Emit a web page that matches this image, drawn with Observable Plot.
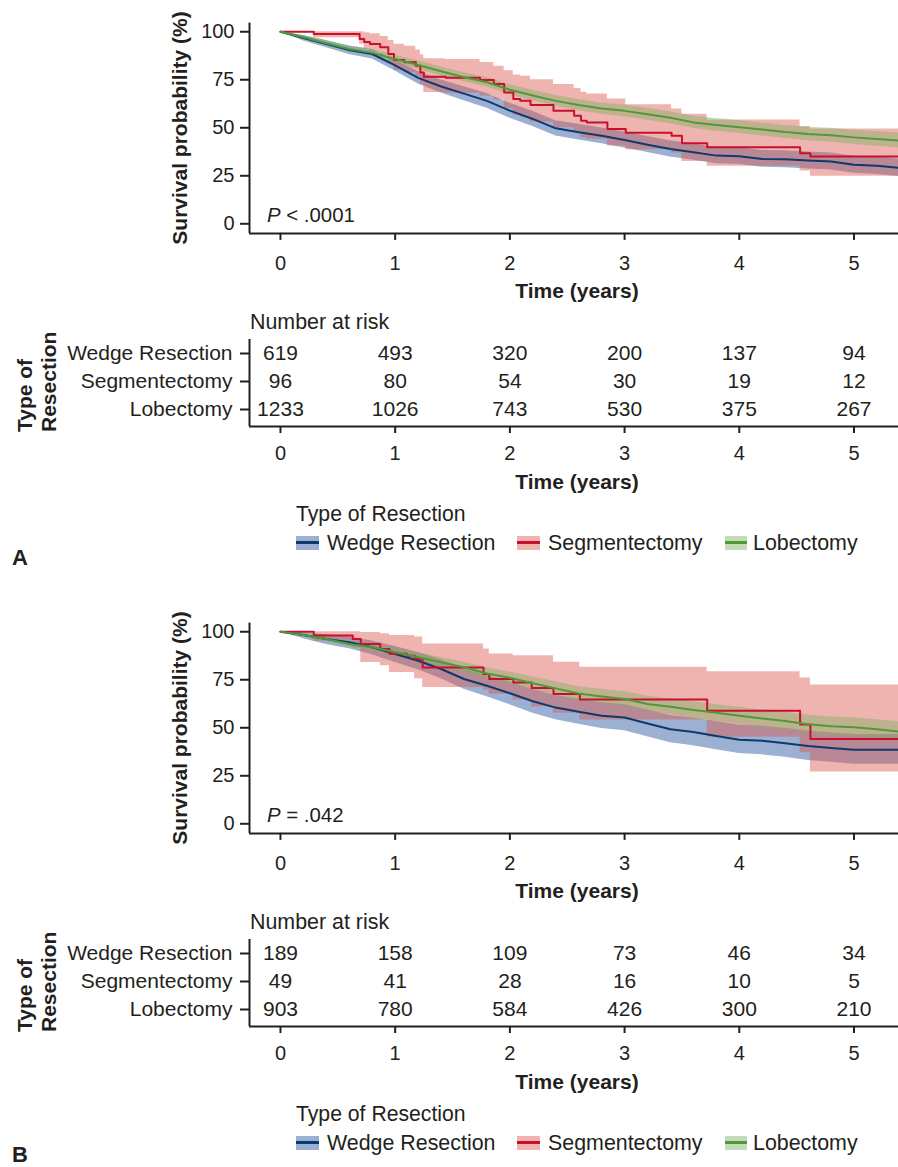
<!DOCTYPE html>
<html><head><meta charset="utf-8">
<script src="https://cdn.jsdelivr.net/npm/d3@7"></script>
<script src="https://cdn.jsdelivr.net/npm/@observablehq/plot@0.6"></script>
<style>
body{margin:0;background:#fff;}
#fig{position:relative;width:898px;height:1167px;font-family:"Liberation Sans",Arial,Helvetica,sans-serif;color:#231f20;overflow:hidden;}
.abs{position:absolute;white-space:nowrap;font-size:21px;line-height:20px;}
.b{font-weight:bold;}
</style></head><body><div id="fig"></div>
<script>
// ---------------- DATA ----------------
const groups = ["Wedge Resection", "Segmentectomy", "Lobectomy"];
const lineColors = ["#0b3a6b", "#c8102e", "#4e9a3a"];
const bandColors = ["#214f9b", "#de584f", "#80af66"];
const swatchColors = ["#9bb0d2", "#f0b4b0", "#c6dbba"];
const survTicks = [0, 25, 50, 75, 100];
const timeTicks = [0, 1, 2, 3, 4, 5];
const pLabels = ["< .0001", "= .042"];
const panelLetters = ["A", "B"];

const timeGrid = [0,0.2,0.4,0.6,0.8,1.0,1.2,1.4,1.6,1.8,2.0,2.2,2.4,2.6,2.8,3.0,3.2,3.4,3.6,3.8,4.0,4.2,4.4,4.6,4.8,5.0,5.2,5.4];

// Panel A
const wedgeA_surv  = [100,96.7,93.6,90.5,88.4,82.5,76.0,71.5,67.8,64.0,58.9,54.6,49.7,47.7,45.8,43.6,41.2,39.0,37.3,35.5,35.2,33.8,33.6,32.9,32.4,30.7,30.2,29.1];
const wedgeA_lower = [100,95.2,91.7,88.2,85.8,79.6,72.8,68.1,64.1,60.1,54.9,50.6,45.7,43.6,41.7,39.5,37.1,34.8,33.1,31.3,30.9,29.5,29.2,28.5,28.0,26.3,25.7,24.6];
const wedgeA_upper = [100,98.0,95.4,92.6,90.8,85.3,79.3,74.9,71.4,67.8,62.8,58.6,53.7,51.8,49.9,47.8,45.4,43.3,41.6,39.8,39.6,38.2,38.0,37.4,36.9,35.2,34.8,33.7];
const lobeA_surv  = [100,97.1,94.0,91.0,89.0,85.8,82.7,79.4,76.3,73.7,69.8,66.8,64.0,61.8,60.0,58.8,57.0,55.2,52.8,51.5,50.3,49.1,47.8,46.8,46.1,45.0,44.2,43.3];
const lobeA_lower = [100,96.2,92.7,89.4,87.2,83.8,80.5,77.1,73.9,71.2,67.2,64.1,61.2,58.9,57.1,55.8,53.9,52.1,49.6,48.2,47.0,45.7,44.4,43.3,42.5,41.3,40.4,39.4];
const lobeA_upper = [100,98.0,95.3,92.6,90.8,87.8,84.9,81.7,78.7,76.2,72.4,69.5,66.8,64.7,62.9,61.8,60.1,58.3,56.0,54.8,53.6,52.5,51.2,50.3,49.7,48.7,48.0,47.2];
const segA_time  = [0,0.29,0.69,0.73,0.78,0.87,0.94,0.99,1.08,1.18,1.22,1.25,1.44,1.74,1.86,1.95,2.03,2.09,2.18,2.38,2.56,2.62,2.67,2.85,3.01,3.41,3.50,3.72,4.53,4.62,5.4];
const segA_surv  = [100,98.8,96.2,94.6,93.6,91.9,88.4,85.3,84.1,82.3,78.8,76.6,76.0,74.9,72.8,68.4,65.0,64.1,61.9,58.9,56.3,53.7,52.8,49.4,47.4,45.9,41.9,39.9,36.7,35.0,35.0];
const segA_upper = [100,100,100,99.5,99,97.5,95.5,93.5,92.5,90.5,88,86,85.5,84,82,79.7,77.5,76.8,75,72.5,70.5,68.5,67.6,65,62,59.8,57,54,50.6,49.4,49.4];
const segA_lower = [100,96.9,93.5,91,89.5,87.5,83.5,80,78.5,76.5,72.5,68.4,68,66.5,64.5,60,56.5,55.5,53,50,47.5,44.8,44,40.5,38.5,36.8,32.5,30,27.5,24.8,24.8];

// Panel B
const wedgeB_surv  = [100,98.3,96.2,94.5,91.9,88.4,84.9,80.6,75.4,71.9,68.0,63.8,60.5,58.3,56.3,55.3,52.2,49.2,47.8,45.7,43.8,43.2,42.0,40.5,39.5,38.5,38.5,38.5];
const wedgeB_lower = [100,96.4,93.4,91.1,88.0,84.0,80.2,75.5,70.0,66.2,62.0,57.6,54.2,51.8,49.6,48.4,45.3,42.2,40.7,38.6,36.6,35.9,34.7,33.0,32.0,31.0,31.0,31.0];
const wedgeB_upper = [100,99.5,98.4,97.2,95.2,92.3,89.2,85.4,80.6,77.4,73.8,69.9,66.8,64.8,63.0,62.1,59.3,56.4,55.1,53.2,51.4,50.8,49.7,48.3,47.4,46.5,46.5,46.5];
const lobeB_surv  = [100,98.3,96.2,93.6,91.9,89.3,86.7,84.1,81.5,78.3,76.0,73.2,70.5,67.8,66.3,65.0,62.4,61.0,59.3,57.8,56.3,54.8,53.5,51.8,50.8,50.3,49.2,48.0];
const lobeB_lower = [100,97.3,94.9,92.0,90.0,87.1,84.3,81.5,78.7,75.3,72.8,69.8,66.9,64.0,62.4,61.0,58.3,56.8,55.0,53.4,51.8,50.2,48.8,47.0,45.9,45.3,44.1,42.8];
const lobeB_upper = [100,99.1,97.4,95.1,93.7,91.4,89.1,86.6,84.3,81.2,79.1,76.5,73.9,71.4,70.1,68.9,66.4,65.1,63.5,62.1,60.7,59.3,58.1,56.5,55.6,55.2,54.2,53.1];
const segB_time  = [0,0.29,0.63,0.70,0.87,0.95,1.10,1.17,1.24,1.77,1.82,2.03,2.19,2.38,2.61,3.72,4.53,4.62,5.4];
const segB_surv  = [100,98.0,96.2,93.6,91.0,88.6,87.5,85.8,81.4,78.0,75.4,73.6,70.7,67.6,64.7,58.9,51.7,44.2,44.2];
const segB_upper = [100,100,100,99.6,98.9,98.0,98.0,97.2,93.6,91.0,88.4,87.5,87.5,84.1,81.5,79.2,75.9,72.3,72.3];
const segB_lower = [100,95,91.5,84.0,82.3,78.8,78.8,75.5,71.0,69.5,67.5,64.5,61,57.5,54,45,37,27,27];

// Number at risk
const riskTimes = [0, 1, 2, 3, 4, 5];
const riskA_wedge = [619, 493, 320, 200, 137, 94];
const riskA_seg   = [96, 80, 54, 30, 19, 12];
const riskA_lobe  = [1233, 1026, 743, 530, 375, 267];
const riskB_wedge = [189, 158, 109, 73, 46, 34];
const riskB_seg   = [49, 41, 28, 16, 10, 5];
const riskB_lobe  = [903, 780, 584, 426, 300, 210];

// ---------------- BUILD ----------------
const INK = "#231f20";
const FONT = '"Liberation Sans", Arial, Helvetica, sans-serif';
const X0 = -0.27, X1 = 5.388;
const fig = document.getElementById("fig");
const fmt = d => String(d);

function rows(time, s, lo, hi) { return time.map((t, i) => ({t, s: s[i], lo: lo[i], hi: hi[i]})); }

const panels = [
  { curves: [rows(timeGrid, wedgeA_surv, wedgeA_lower, wedgeA_upper), rows(segA_time, segA_surv, segA_lower, segA_upper), rows(timeGrid, lobeA_surv, lobeA_lower, lobeA_upper)],
    risk: [riskA_wedge, riskA_seg, riskA_lobe] },
  { curves: [rows(timeGrid, wedgeB_surv, wedgeB_lower, wedgeB_upper), rows(segB_time, segB_surv, segB_lower, segB_upper), rows(timeGrid, lobeB_surv, lobeB_lower, lobeB_upper)],
    risk: [riskB_wedge, riskB_seg, riskB_lobe] }
];
const curveTypes = ["linear", "step-after", "linear"];

function place(el, left, top) { el.style.position = "absolute"; el.style.left = left + "px"; el.style.top = top + "px"; fig.appendChild(el); return el; }
function label(html, left, capTop, cls, extra) {
  const d = document.createElement("div");
  d.className = "abs " + (cls || "");
  d.innerHTML = html;
  if (extra) Object.assign(d.style, extra);
  place(d, left, capTop - 2.3);
  return d;
}

const style = {fontFamily: FONT, fontSize: "20px", color: INK, background: "none", overflow: "visible"};

panels.forEach((P, pi) => {
  const off = pi * 600;

  // Survival curves
  const marks = [];
  P.curves.forEach((c, g) => marks.push(Plot.areaY(c, {x: "t", y1: "lo", y2: "hi", fill: bandColors[g], fillOpacity: 0.45, curve: curveTypes[g], clip: true})));
  P.curves.forEach((c, g) => marks.push(Plot.line(c, {x: "t", y: "s", stroke: lineColors[g], strokeWidth: 2, curve: curveTypes[g], clip: true})));
  marks.push(
    Plot.ruleX([X0], {stroke: INK, strokeWidth: 2}),
    Plot.ruleY([-5], {stroke: INK, strokeWidth: 2}),
    Plot.axisY({ticks: survTicks, tickFormat: fmt, tickSize: 9, tickPadding: 6, stroke: INK, strokeWidth: 2, label: null, fontSize: 20}),
    Plot.axisX({ticks: timeTicks, tickFormat: fmt, tickSize: 7, tickPadding: 15, stroke: INK, strokeWidth: 2, label: null, fontSize: 20})
  );
  const km = Plot.plot({
    width: 898, height: 310,
    marginLeft: 249, marginRight: 0, marginTop: 22.6, marginBottom: 77.1,
    x: {domain: [X0, X1]},
    y: {domain: [-5, 104.5]},
    style, marks
  });
  place(km, 0, off);

  // Risk table
  const riskRows = [];
  P.risk.forEach((arr, g) => arr.forEach((n, i) => riskRows.push({t: riskTimes[i], g, n})));
  const tbl = Plot.plot({
    width: 898, height: 170,
    marginLeft: 249, marginRight: 0, marginTop: 39, marginBottom: 44,
    x: {domain: [X0, X1]},
    y: {domain: [-0.5, 2.607], reverse: true},
    style,
    marks: [
      Plot.text(riskRows, {x: "t", y: "g", text: d => String(d.n), fontSize: 21, fill: INK}),
      Plot.ruleX([X0], {stroke: INK, strokeWidth: 2}),
      Plot.ruleY([2.607], {stroke: INK, strokeWidth: 2}),
      Plot.axisY({ticks: [0, 1, 2], tickFormat: i => groups[i], tickSize: 9, tickPadding: 8, stroke: INK, strokeWidth: 2, label: null, fontSize: 21}),
      Plot.axisX({ticks: riskTimes, tickFormat: fmt, tickSize: 7, tickPadding: 12, stroke: INK, strokeWidth: 2, label: null, fontSize: 20})
    ]
  });
  place(tbl, 0, off + 300);

  // Labels
  const yl = label("Survival probability (%)", 179.5, 0, "b");
  yl.style.top = (off + 127.5) + "px";
  yl.style.transform = "translate(-50%,-50%) rotate(-90deg)";
  label("Time (years)", 577, off + 283, "b", {transform: "translateX(-50%)"});
  label('<i>P</i> ' + pLabels[pi], 267, off + 207, "", {fontSize: "20.4px"});
  label("Number at risk", 250, off + 314, "", {fontSize: "21.4px"});
  label("Time (years)", 577, off + 474, "b", {transform: "translateX(-50%)"});

  // Rotated "Type of / Resection" title (start anchored at bottom)
  const tt = document.createElement("div");
  tt.className = "abs b";
  tt.style.lineHeight = "23.5px";
  tt.innerHTML = "Type of<br>Resection";
  tt.style.transformOrigin = "0 0";
  tt.style.transform = "rotate(-90deg)";
  place(tt, 13, off + 432);

  // Legend
  const lo = off - 2;
  label("Type of Resection", 296, lo + 508, "", {fontSize: "21.2px"});
  const sx = [296, 517, 724.5], tx = [327, 548, 753];
  groups.forEach((g, i) => {
    const sw = document.createElement("div");
    sw.style.width = "22.5px"; sw.style.height = "14.6px"; sw.style.background = swatchColors[i];
    const ln = document.createElement("div");
    ln.style.position = "absolute"; ln.style.left = "0"; ln.style.top = "5.8px"; ln.style.width = "100%"; ln.style.height = "3px"; ln.style.background = lineColors[i];
    sw.appendChild(ln);
    place(sw, sx[i], lo + 537.7);
    label(g, tx[i], lo + 537.5, "", {fontSize: "21.4px"});
  });

  label(panelLetters[pi], 12, off + 550 + (pi ? -3 : 0), "b", {fontSize: "22px"});
});
</script></body></html>
